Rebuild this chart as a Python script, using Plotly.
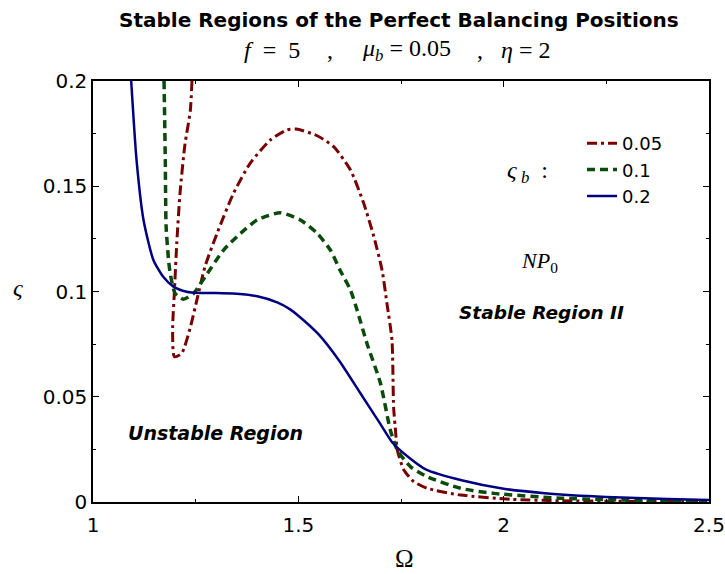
import plotly.graph_objects as go

# zeta_b = 0.05
x_005 = [1.241, 1.237, 1.224, 1.212, 1.204, 1.198, 1.194, 1.198, 1.216, 1.237, 1.253, 1.273,
         1.302, 1.342, 1.383, 1.432, 1.472, 1.495, 1.546, 1.586, 1.627, 1.659, 1.684, 1.704,
         1.716, 1.728, 1.732, 1.737, 1.741, 1.757, 1.781, 1.814, 1.895, 2.017, 2.139, 2.383, 2.5]
y_005 = [0.2, 0.186, 0.170, 0.147, 0.123, 0.099, 0.083, 0.069, 0.0706, 0.083, 0.096, 0.112,
         0.1276, 0.1466, 0.161, 0.172, 0.1767, 0.1772, 0.174, 0.1688, 0.1577, 0.142, 0.126, 0.110,
         0.094, 0.077, 0.045, 0.033, 0.0247, 0.0152, 0.0097, 0.0065, 0.0033, 0.0013, 0.0006, 0.0002, 0.0001]

# zeta_b = 0.1
x_01 = [1.173, 1.176, 1.178, 1.184, 1.188, 1.200, 1.220, 1.245, 1.273, 1.318, 1.359, 1.400,
        1.456, 1.505, 1.546, 1.578, 1.602, 1.627, 1.643, 1.667, 1.700, 1.724, 1.741, 1.773,
        1.814, 1.895, 1.976, 2.139, 2.383, 2.5]
y_01 = [0.2, 0.1625, 0.131, 0.115, 0.1086, 0.0991, 0.0963, 0.0991, 0.107, 0.1197, 0.1276, 0.134,
        0.1374, 0.134, 0.1276, 0.1197, 0.110, 0.1007, 0.0912, 0.0754, 0.0564, 0.0342, 0.0247, 0.0168,
        0.012, 0.0065, 0.0041, 0.0018, 0.0006, 0.0003]

# zeta_b = 0.2
x_02 = [1.093, 1.106, 1.123, 1.147, 1.171, 1.196, 1.228, 1.261, 1.30, 1.35, 1.40, 1.45,
        1.48, 1.50, 1.55, 1.60, 1.65, 1.70, 1.73, 1.77, 1.81, 1.90, 2.00, 2.10, 2.25, 2.40, 2.5]
y_02 = [0.2, 0.1625, 0.134, 0.115, 0.107, 0.1023, 0.0999, 0.0993, 0.0993, 0.0989, 0.0977, 0.0947,
        0.0915, 0.0885, 0.0795, 0.067, 0.052, 0.037, 0.028, 0.021, 0.0155, 0.0102, 0.0063, 0.0042, 0.0024, 0.0014, 0.001]

series_names = ["0.05", "0.1", "0.2"]
x_ticks = [1, 1.5, 2, 2.5]
x_tick_labels = ["1", "1.5", "2", "2.5"]
y_ticks = [0, 0.05, 0.1, 0.15, 0.2]
y_tick_labels = ["0", "0.05", "0.1", "0.15", "0.2"]

fig = go.Figure()
fig.add_trace(go.Scatter(x=x_005, y=y_005, mode="lines", name=series_names[0],
                         line=dict(color="#7a0000", width=3, dash="10px,4px,3px,4px", shape="spline", smoothing=0.6)))
fig.add_trace(go.Scatter(x=x_01, y=y_01, mode="lines", name=series_names[1],
                         line=dict(color="#0a4a0a", width=3.5, dash="8px,5px", shape="spline", smoothing=0.6)))
fig.add_trace(go.Scatter(x=x_02, y=y_02, mode="lines", name=series_names[2],
                         line=dict(color="#000080", width=2.5, shape="spline", smoothing=0.6)))

sans = "DejaVu Sans, Arial, sans-serif"
serif = "Liberation Serif, Times New Roman, serif"

axis_common = dict(showgrid=False, zeroline=False, showline=True, linecolor="black", linewidth=1.5,
                   mirror="ticks", ticks="inside", ticklen=6, tickcolor="black", tickwidth=1,
                   automargin=False,
                   tickfont=dict(family=sans, size=20, color="black"))

fig.update_xaxes(range=[1, 2.5], tickvals=x_ticks, ticktext=x_tick_labels, ticklabelstandoff=4,
                 minor=dict(dtick=0.25, ticks="inside", ticklen=3, tickcolor="black"),
                 **axis_common)
fig.update_yaxes(range=[0, 0.2], tickvals=y_ticks, ticktext=y_tick_labels,
                 minor=dict(dtick=0.025, ticks="inside", ticklen=3, tickcolor="black"),
                 **axis_common)

# (text, centre x px, centre y px, font) -- positions in figure pixels
annotations = [
    ("<b>Stable Regions of the Perfect Balancing Positions</b>", 399, 20, dict(family=sans, size=20)),
    ("<i>f</i>&nbsp;&nbsp;=&nbsp;&nbsp;5", 272, 50, dict(family=serif, size=24)),
    (",", 330, 50, dict(family=serif, size=24)),
    ("<i>μ<sub>b</sub></i>&nbsp;=&nbsp;0.05", 406, 50, dict(family=serif, size=24)),
    (",", 480, 50, dict(family=serif, size=24)),
    ("<i>η</i>&nbsp;=&nbsp;2", 525, 50, dict(family=serif, size=24)),
    ("<i>ς</i>", 18, 288, dict(family=serif, size=24)),
    ("Ω", 405, 558, dict(family=serif, size=25)),
    ("<i>ς</i><sub> <i>b</i></sub>&nbsp;&nbsp;:", 527, 172, dict(family=serif, size=24)),
    ("<i>NP</i><sub>0</sub>", 539, 262, dict(family=serif, size=22)),
    ("<b><i>Stable Region II</i></b>", 541, 312, dict(family=sans, size=18.5)),
    ("<b><i>Unstable Region</i></b>", 215.5, 433, dict(family=sans, size=19)),
]
W, H = 725, 574
L, R, T, B = 93, 709, 81, 502
for text, px, py, font in annotations:
    font = dict(font, color="black")
    fig.add_annotation(text=text, x=(px - L) / (R - L), y=(B - py) / (B - T),
                       xref="paper", yref="paper", xanchor="center", yanchor="middle",
                       showarrow=False, font=font)

fig.update_layout(
    width=W, height=H,
    margin=dict(l=L, r=W - R, t=T, b=H - B, autoexpand=False),
    paper_bgcolor="white", plot_bgcolor="white",
    showlegend=True,
    legend=dict(x=(582 - L) / (R - L), y=(B - 125) / (B - T), xanchor="left", yanchor="top",
                bgcolor="rgba(0,0,0,0)", font=dict(family=sans, size=18, color="black"),
                tracegroupgap=0),
)

fig.write_html("out.html", config={"displayModeBar": False},
               post_script="document.body.style.margin='0';document.body.style.overflow='hidden';")
